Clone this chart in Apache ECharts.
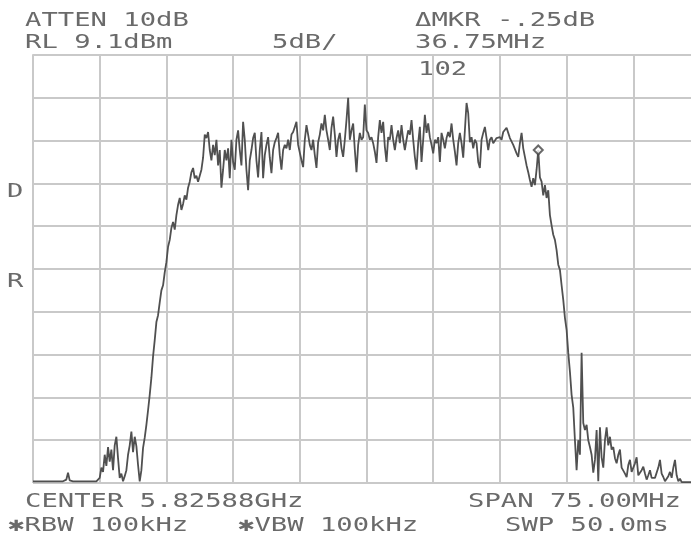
<!DOCTYPE html>
<html>
<head>
<meta charset="utf-8">
<script src="https://cdn.jsdelivr.net/npm/echarts@6/dist/echarts.min.js"></script>
<style>
  html, body { margin: 0; padding: 0; background: #fff; }
  #chart { width: 691px; height: 537px; }
</style>
</head>
<body>
<div id="chart"></div>
<script>
// Analyzer settings shown in the annotation
const CENTER_GHZ = 5.82588;
const SPAN_MHZ = 75;
const REF_LEVEL_DBM = 9.1;
const DB_PER_DIV = 5;
const DIVISIONS = 10;

// Trace level of each of the 401 sweep points, dB relative to the reference level
const floorLeft = [
  -49.8, -49.8, -49.8, -49.8, -49.8, -49.8, -49.8, -49.8, -49.8, -49.8,
  -49.8, -49.8, -49.8, -49.8, -49.8, -49.8, -49.8, -49.8, -49.8, -49.8,
  -49.6, -48.8, -49.7, -49.8, -49.8, -49.8, -49.8, -49.8, -49.8, -49.8,
  -49.8, -49.8, -49.8, -49.8, -49.8, -49.8, -49.8, -49.8, -49.8, -49.8
];
const risingEdge = [
  -49.4, -48.2, -48.7, -46.7, -48.0, -45.8, -47.5, -46.1, -48.5, -45.6,
  -44.6, -47.1, -49.4, -48.9, -49.8, -49.2, -48.5, -46.7, -45.6, -44.0,
  -46.4, -44.6, -45.7, -47.9, -49.8, -48.5, -45.9, -44.7, -43.2, -41.5,
  -39.7, -37.7, -35.2, -33.3, -31.2, -30.4, -28.9, -27.5, -26.9, -25.4,
  -24.2, -22.4, -21.6, -20.2, -19.5, -20.4, -18.7, -17.5, -16.7, -18.1,
  -17.4, -16.4, -16.9, -15.5, -14.8, -13.7, -13.2, -14.4, -14.1, -14.8
];
const passband = [
  -14.6, -13.4, -12.0, -9.3, -9.7, -9.0, -11.1, -12.3, -10.5, -11.7,
  -9.9, -12.9, -11.1, -15.5, -13.4, -11.1, -12.3, -10.9, -14.4, -9.9,
  -12.5, -13.4, -9.9, -8.8, -11.1, -12.9, -7.8, -9.9, -13.4, -15.8,
  -12.3, -11.1, -9.7, -9.1, -12.3, -14.3, -11.1, -9.0, -14.4, -11.7,
  -10.5, -9.6, -12.0, -13.8, -11.1, -10.2, -9.7, -9.1, -11.7, -13.4,
  -11.1, -10.5, -10.9, -9.9, -11.1, -9.3, -9.0, -8.4, -7.8, -10.5,
  -10.7, -12.3, -13.1, -9.9, -8.2, -9.3, -10.5, -11.1, -9.9, -11.7,
  -13.2, -10.2, -9.3, -8.0, -8.8, -7.0, -8.8, -9.9, -11.1, -8.5,
  -7.2, -9.3, -11.9, -9.9, -9.1, -10.9, -11.9, -9.9, -7.6, -5.0,
  -9.9, -8.8, -8.0, -11.1, -13.7, -10.5, -9.1, -9.9, -9.6, -5.8,
  -8.8, -9.1, -9.9, -9.6, -10.3, -11.3, -12.6, -9.6, -7.6, -9.1,
  -7.8, -10.7, -12.5, -9.6, -9.9, -8.2, -9.9, -11.1, -9.7, -8.8,
  -10.3, -8.2, -9.9, -11.1, -9.9, -8.8, -9.3, -7.6, -9.9, -11.9,
  -13.4, -10.3, -8.4, -12.5, -9.9, -7.0, -9.1, -8.0, -9.6, -10.5,
  -11.5, -9.9, -10.3, -9.6, -12.5, -9.1, -9.9, -10.9, -9.7, -9.0,
  -9.6, -8.0, -9.9, -11.3, -12.9, -10.3, -9.1, -10.3, -12.0, -8.8,
  -5.6, -6.8, -10.2, -9.6, -10.9, -9.9, -10.3, -12.5, -13.2, -9.9,
  -9.1, -8.4, -9.7, -11.1, -9.9, -9.6, -10.3, -10.5, -9.7, -9.9,
  -9.6, -9.9, -9.0, -8.8, -8.5, -9.1, -9.7, -9.6, -10.5, -10.7,
  -11.5, -11.9, -10.3, -9.1, -10.9, -11.9, -12.9, -13.7, -14.6, -15.4,
  -14.4, -15.2, -13.4, -11.1, -14.3, -14.8
];
const fallingEdge = [
  -16.4, -15.2, -16.7, -15.8,
  -18.7, -19.9, -21.0, -21.6, -22.8, -24.5, -25.1, -26.9, -28.6, -30.7,
  -32.1, -34.8, -37.0, -39.7, -41.2, -45.0, -48.5, -45.0, -46.7, -34.8,
  -43.0, -43.8, -43.2, -45.0, -45.8, -46.7, -48.8, -47.3, -43.8, -49.8,
  -43.5, -47.0, -48.2, -45.0, -43.5, -45.6, -44.6, -46.1, -45.8, -47.1,
  -47.7, -46.7, -46.1, -48.2, -48.0, -48.9, -49.3, -47.9, -47.3, -48.7,
  -48.5, -47.7, -47.0, -49.1, -49.3, -48.5, -48.1, -48.9, -49.6, -49.1,
  -48.5, -49.4, -49.6, -49.4, -49.5, -48.2, -47.3, -48.9, -49.3, -49.8,
  -49.6, -49.2, -48.7, -49.4, -48.2, -47.3, -49.1, -49.8, -49.5, -49.9,
  -49.8, -49.9, -49.9, -49.9, -49.9, -49.9, -49.9, -49.9, -49.9, -49.9, -49.9
];
const levelDb = floorLeft.concat(risingEdge, passband, fallingEdge);

// Sweep point index of the active marker
const MARKER_POINT = 303;

// Screen annotations: [text, left, cap centre]
const annotations = [
  ['ATTEN 10dB', 25, 21],
  ['RL 9.1dBm', 25, 43],
  ['5dB/', 272, 43],
  ['\u0394MKR -.25dB', 415, 21],
  ['36.75MHz', 415, 43],
  ['102', 418, 70],
  ['D', 7, 192],
  ['R', 7, 282],
  ['CENTER ' + CENTER_GHZ.toFixed(5) + 'GHz', 25, 502],
  ['SPAN ' + SPAN_MHZ.toFixed(2) + 'MHz', 468, 502],
  ['\u2731RBW 100kHz', 8, 526],
  ['\u2731VBW 100kHz', 238, 526],
  ['SWP 50.0ms', 505, 526]
];

// Frequency offset of each sweep point from the centre, MHz
const pointCount = levelDb.length;
const freqMHz = levelDb.map((_, i) => -SPAN_MHZ / 2 + i * SPAN_MHZ / (pointCount - 1));
const trace = levelDb.map((v, i) => [freqMHz[i], v]);

const gridLine = { color: '#c9c9c9', width: 2 };
const TEXT_COLOR = '#6a6a6a';

const chart = echarts.init(document.getElementById('chart'), null, { renderer: 'canvas' });

chart.setOption({
  animation: false,
  backgroundColor: '#fff',
  grid: {
    left: 33, top: 55, width: 667, height: 428,
    containLabel: false,
    outerBoundsMode: 'none'
  },
  xAxis: {
    type: 'value',
    min: -SPAN_MHZ / 2,
    max: SPAN_MHZ / 2,
    interval: SPAN_MHZ / DIVISIONS,
    axisLine: { show: true, lineStyle: gridLine },
    axisTick: { show: false },
    axisLabel: { show: false },
    splitLine: { show: true, lineStyle: gridLine }
  },
  yAxis: {
    type: 'value',
    min: -DB_PER_DIV * DIVISIONS,
    max: 0,
    interval: DB_PER_DIV,
    axisLine: { show: true, lineStyle: gridLine },
    axisTick: { show: false },
    axisLabel: { show: false },
    splitLine: { show: true, lineStyle: gridLine }
  },
  series: [
    {
      type: 'line',
      data: trace,
      showSymbol: false,
      symbol: 'none',
      lineStyle: { color: '#505050', width: 1.8 },
      z: 3
    },
    {
      type: 'scatter',
      data: [trace[MARKER_POINT]],
      symbol: 'diamond',
      symbolSize: 9,
      itemStyle: { color: '#fff', borderColor: '#444', borderWidth: 2 },
      z: 4
    }
  ],
  graphic: annotations.map(([text, left, mid]) => ({
    type: 'text',
    x: left,
    y: mid,
    scaleX: 1.36,
    style: {
      text: text,
      x: 0,
      y: 0,
      font: '20px "DejaVu Sans Mono"',
      fill: TEXT_COLOR,
      textVerticalAlign: 'middle'
    }
  }))
});
</script>
</body>
</html>
